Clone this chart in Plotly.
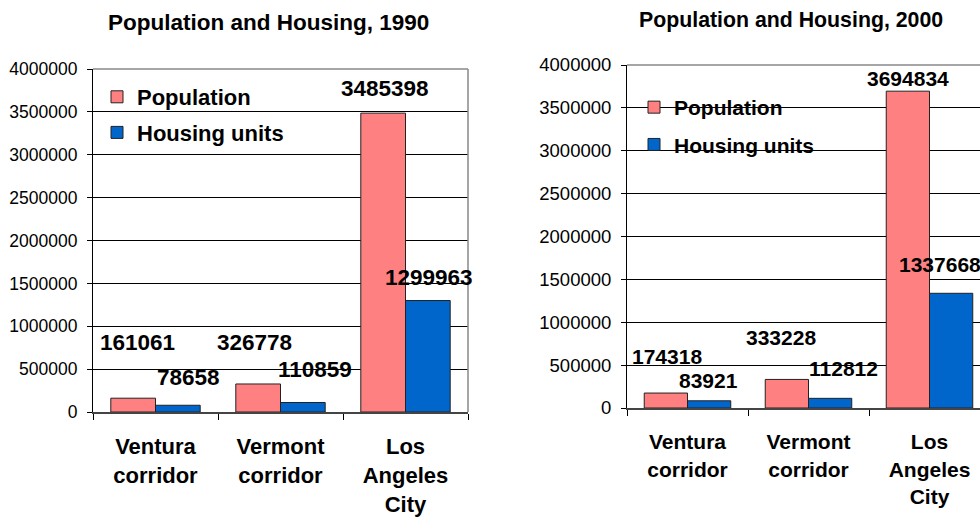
import plotly.graph_objects as go

categories = ["Ventura<br>corridor", "Vermont<br>corridor", "Los<br>Angeles<br>City"]
population_1990 = [161061, 326778, 3485398]
housing_1990 = [78658, 110859, 1299963]
population_2000 = [174318, 333228, 3694834]
housing_2000 = [83921, 112812, 1337668]
y_ticks = [0, 500000, 1000000, 1500000, 2000000, 2500000, 3000000, 3500000, 4000000]

W, H = 980, 517
PINK = "#FF8080"
BLUE = "#0066CC"
FONT = "Liberation Sans, Arial, sans-serif"


def px(x):
    return x / W


def py(y):
    return 1 - y / H


fig = go.Figure()
fig.add_bar(x=categories, y=population_1990, name="Population", marker=dict(color=PINK, line=dict(color="#222", width=1)),
            xaxis="x", yaxis="y", legend="legend", legendgroup="a")
fig.add_bar(x=categories, y=housing_1990, name="Housing units", marker=dict(color=BLUE, line=dict(color="#222", width=1)),
            xaxis="x", yaxis="y", legend="legend", legendgroup="b")
fig.add_bar(x=categories, y=population_2000, name="Population", marker=dict(color=PINK, line=dict(color="#222", width=1)),
            xaxis="x2", yaxis="y2", legend="legend2", legendgroup="c")
fig.add_bar(x=categories, y=housing_2000, name="Housing units", marker=dict(color=BLUE, line=dict(color="#222", width=1)),
            xaxis="x2", yaxis="y2", legend="legend2", legendgroup="d")


def xaxis_style(domain, rng, size, standoff):
    return dict(domain=domain, type="category", range=rng, tickson="boundaries", ticks="outside", ticklen=6,
                tickcolor="#000", showline=True, linecolor="#444", linewidth=2, showgrid=False,
                tickfont=dict(family=FONT, size=size, color="#000", weight="bold"), ticklabelstandoff=standoff,
                fixedrange=True, automargin=False)


def yaxis_style(domain, size, anchor):
    return dict(domain=domain, range=[0, 4000000], tickvals=y_ticks, tickformat="d", ticks="outside", ticklen=5,
                tickcolor="#000", showline=True, linecolor="#000", linewidth=1, showgrid=True, gridcolor="#000",
                gridwidth=1, zeroline=False, tickfont=dict(family=FONT, size=size, color="#000"),
                ticklabelstandoff=6, anchor=anchor, fixedrange=True, automargin=False)


fig.update_layout(
    width=W, height=H, margin=dict(l=0, r=0, t=0, b=0, autoexpand=False), paper_bgcolor="white",
    plot_bgcolor="white",
    barmode="group", bargap=0.285, bargroupgap=0,
    xaxis=xaxis_style([px(93), px(468)], [-0.5, 2.5], 22, 14) | dict(anchor="y"),
    yaxis=yaxis_style([py(412), py(69)], 17.5, "x"),
    xaxis2=xaxis_style([px(627), 1.0], [-0.5, -0.5 + (W - 627) / 121], 21, 14) | dict(anchor="y2"),
    yaxis2=yaxis_style([py(408), py(65)], 18.5, "x2"),
    legend=dict(x=px(97), y=py(76), xanchor="left", yanchor="top", bgcolor="rgba(0,0,0,0)", borderwidth=0,
                font=dict(family=FONT, size=22, color="#000", weight="bold"), tracegroupgap=4, traceorder="grouped"),
    legend2=dict(x=px(634), y=py(87), xanchor="left", yanchor="top", bgcolor="rgba(0,0,0,0)", borderwidth=0,
                 font=dict(family=FONT, size=21, color="#000", weight="bold"), tracegroupgap=7, traceorder="grouped"),
    showlegend=True,
)

shapes = [
    dict(type="line", xref="x domain", yref="y domain", x0=0, x1=1, y0=1, y1=1, line=dict(color="#888", width=1.5)),
    dict(type="line", xref="x domain", yref="y domain", x0=1, x1=1, y0=0, y1=1, line=dict(color="#888", width=1.5)),
    dict(type="line", xref="x2 domain", yref="y2 domain", x0=0, x1=1, y0=1, y1=1, line=dict(color="#888", width=1.5)),
    dict(type="rect", xref="paper", yref="paper", x0=px(94), x1=px(314), y0=py(150), y1=py(72),
         fillcolor="white", line=dict(width=0), layer="between"),
    dict(type="rect", xref="paper", yref="paper", x0=px(638), x1=px(826), y0=py(172), y1=py(82),
         fillcolor="white", line=dict(width=0), layer="between"),
]
fig.update_layout(shapes=shapes)

annotations = [
    dict(text="<b>Population and Housing, 1990</b>", x=px(268), y=py(23), xref="paper", yref="paper",
         showarrow=False, font=dict(family=FONT, size=22.5, color="#000"), xanchor="center", yanchor="middle"),
    dict(text="<b>Population and Housing, 2000</b>", x=px(791), y=py(20), xref="paper", yref="paper",
         showarrow=False, font=dict(family=FONT, size=21.3, color="#000"), xanchor="center", yanchor="middle"),
]

# data labels (x: category, shifted toward each bar; y: label height in data units)
label_1990 = [
    (0, population_1990[0], -18, 805000),
    (0, housing_1990[0], 33, 408000),
    (1, population_1990[1], -26, 805000),
    (1, housing_1990[1], 34, 501000),
    (2, population_1990[2], -21, 3767000),
    (2, housing_1990[2], 23, 1563000),
]
label_2000 = [
    (0, population_2000[0], -21, 595000),
    (0, housing_2000[0], 21, 315000),
    (1, population_2000[1], -28, 828000),
    (1, housing_2000[1], 35, 455000),
    (2, population_2000[2], -22, 3837000),
    (2, housing_2000[2], 10, 1668000),
]
for ci, val, dx, yy in label_1990:
    annotations.append(dict(text=f"<b>{val}</b>", x=categories[ci], y=yy, xref="x", yref="y", xshift=dx,
                            showarrow=False, font=dict(family=FONT, size=22.5, color="#000")))
for ci, val, dx, yy in label_2000:
    annotations.append(dict(text=f"<b>{val}</b>", x=categories[ci], y=yy, xref="x2", yref="y2", xshift=dx,
                            showarrow=False, font=dict(family=FONT, size=21, color="#000")))
fig.update_layout(annotations=annotations)

fig.write_html(
    "out.html",
    config={"displayModeBar": False},
    post_script="document.body.style.margin='0';document.body.style.overflow='hidden';",
)
